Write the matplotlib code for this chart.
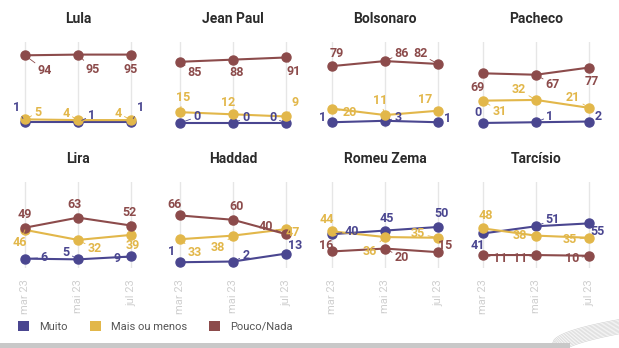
"""Avaliação de candidatos — pequenos múltiplos por nome, três ondas (mar/mai/jul 23)."""

import matplotlib.pyplot as plt
import numpy as np
from matplotlib.patches import Patch, Rectangle

plt.rcParams["font.family"] = ["Roboto", "DejaVu Sans"]

months = ["mar 23", "mai 23", "jul 23"]
candidates = ["Lula", "Jean Paul", "Bolsonaro", "Pacheco",
              "Lira", "Haddad", "Romeu Zema", "Tarcísio"]
series_names = ["Muito", "Mais ou menos", "Pouco/Nada"]

muito = [[1, 1, 1], [0, 0, 0], [1, 3, 1], [0, 1, 2],
         [6, 5, 9], [1, 2, 13], [40, 45, 50], [41, 51, 55]]
mais_ou_menos = [[5, 4, 4], [15, 12, 9], [20, 11, 17], [31, 32, 21],
                 [46, 32, 39], [33, 38, 47], [44, 36, 35], [48, 38, 35]]
pouco_nada = [[94, 95, 95], [85, 88, 91], [79, 86, 82], [69, 67, 77],
              [49, 63, 52], [66, 60, 40], [16, 20, 15], [11, 11, 10]]

COLORS = ["#4a4690", "#e2b74a", "#8c4b4b"]

# label offsets in pixels (dx, dy) per panel, per series, per point
OFFSETS = {
    "Lula": [[(-8, 15), (14, 7), (9, 15)],
             [(13, 7), (-12, 7), (-13, 7)],
             [(20, -15), (15, -15), (0, -15)]],
    "Jean Paul": [[(17, 6), (13, 5), (-13, 5)],
                  [(3, 15), (-5, 12), (9, 14)],
                  [(15, -11), (4, -13), (8, -14)]],
    "Bolsonaro": [[(-9, 5), (13, 3), (9, 4)],
                  [(18, -4), (-5, 15), (-13, 11)],
                  [(5, 13), (17, 8), (-18, 10)]],
    "Pacheco": [[(-5, 10), (14, 6), (9, 5)],
                [(17, -11), (-17, 10), (-16, 10)],
                [(-5, -14), (17, -10), (3, -14)]],
    "Lira": [[(19, 1), (-12, 7), (-14, -2)],
             [(-5, -13), (17, -9), (2, -11)],
             [(0, 13), (-4, 13), (-2, 13)]],
    "Haddad": [[(-8, 11), (13, 6), (9, 8)],
               [(15, -13), (-15, -12), (7, -3)],
               [(-5, 11), (4, 13), (-20, 8)]],
    "Romeu Zema": [[(20, 3), (2, 12), (3, 13)],
                   [(-5, 12), (-15, -14), (-20, 4)],
                   [(-6, 6), (17, -9), (7, 7)]],
    "Tarcísio": [[(-5, -12), (17, 7), (8, -8)],
                 [(3, 13), (-16, 0), (-19, -2)],
                 [(17, -3), (-16, -3), (-17, -3)]],
}

W, H = 619, 348
fig = plt.figure(figsize=(W / 100, H / 100), dpi=100)
fig.patch.set_facecolor("white")

col_left = [9, 164, 316, 467]
row_top = [42, 182]
ax_w, ax_h = 138, 86

x = np.arange(len(months))
for i, name in enumerate(candidates):
    r, c = divmod(i, 4)
    ax = fig.add_axes([col_left[c] / W, 1 - (row_top[r] + ax_h) / H,
                       ax_w / W, ax_h / H])
    ax.set_xlim(-0.3, 2.3)
    ax.set_ylim(-7, 112.5)
    for s in ax.spines.values():
        s.set_visible(False)
    ax.set_yticks([])
    ax.set_xticks(x)
    ax.grid(axis="x", color="#e6e6e6", lw=1)
    ax.set_axisbelow(True)
    ax.tick_params(axis="x", length=0, pad=8)
    if r == 1:
        ax.set_xticklabels(months, rotation=90, fontsize=8, color="#cfcfcf")
    else:
        ax.set_xticklabels([])
    ax.set_title(name, fontsize=10, fontweight="bold", color="#2b2b2b", pad=14)

    for k, vals in enumerate([muito[i], mais_ou_menos[i], pouco_nada[i]]):
        ax.plot(x, vals, color=COLORS[k], lw=1.5, marker="o", ms=6.5, zorder=3)
        for j, v in enumerate(vals):
            dx, dy = OFFSETS[name][k][j]
            long_off = (dx * dx + dy * dy) ** 0.5 > 13
            ax.annotate(str(v), (x[j], v), xytext=(dx, dy),
                        textcoords="offset pixels", ha="center", va="center",
                        fontsize=9, fontweight="bold", color=COLORS[k],
                        zorder=5, annotation_clip=False,
                        arrowprops=dict(arrowstyle="-", color=COLORS[k], lw=0.6,
                                        shrinkA=0, shrinkB=3) if long_off else None)

handles = [Patch(facecolor=col, edgecolor="none") for col in COLORS]
fig.legend(handles, series_names, loc="lower left", bbox_to_anchor=(8 / W, 6 / H),
           ncol=3, frameon=False, fontsize=8, handlelength=1.0, handleheight=1.0,
           handletextpad=0.9, columnspacing=2.0, labelcolor="#555555")

# footer band and corner swoosh
fig.add_artist(Rectangle((0, 0), 570 / W, 5 / H, transform=fig.transFigure,
                         facecolor="#c8c8c8", edgecolor="none"))
deco = fig.add_axes([545 / W, 0, 74 / W, 30 / H])
deco.set_xlim(0, 1)
deco.set_ylim(0, 1)
deco.axis("off")
t = np.linspace(0, 1, 40)
for n in range(12):
    deco.plot(0.1 + 0.9 * t + n * 0.008, 0.15 + 0.8 * t ** 0.5 - n * 0.04,
              color="#cccccc", lw=0.4)

fig.savefig("out.png", dpi=100)
